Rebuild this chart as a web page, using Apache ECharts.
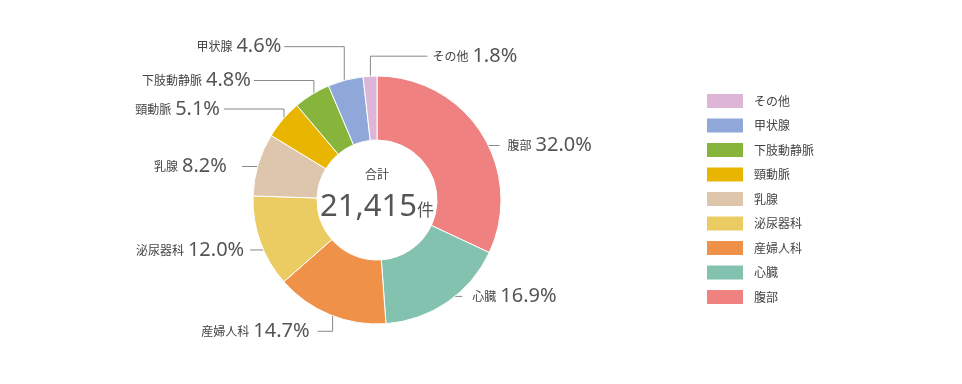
<!DOCTYPE html>
<html><head><meta charset="utf-8">
<script src="https://cdn.jsdelivr.net/npm/echarts@6/dist/echarts.min.js"></script>
<style>html,body{margin:0;padding:0;background:#fff}#c{width:962px;height:384px}</style>
</head><body><div id="c"></div>
<script>
// ---- data ----
var categories = ['腹部','心臓','産婦人科','泌尿器科','乳腺','頸動脈','下肢動静脈','甲状腺','その他'];
var percents   = [32.0, 16.9, 14.7, 12.0, 8.2, 5.1, 4.8, 4.6, 1.8];
var colors     = ['#ef8181','#82c2ae','#f0914a','#ebcc63','#ddc6ab','#e8b600','#87b43b','#90a8d9','#ddb5d6'];
var totalLabel = '21,415';
var totalUnit  = '件';
var totalTitle = '合計';
var legendOrder = ['その他','甲状腺','下肢動静脈','頸動脈','乳腺','泌尿器科','産婦人科','心臓','腹部'];

// ---- label leader layout (angle shift deg, vertical leg, horizontal leg, gap) ----
var leader = [
  {da: 4.7, v: 0,   h: 19,  gap: 8},
  {da: 0,   v: 0,   h: 19,  gap: 10},
  {da: 0,   v: 23,  h: -15, gap: 8},
  {da: -5.6,v: 0,   h: -21, gap: 6},
  {da: 0,   v: 0,   h: -23, gap: 15},
  {da: -3.2,v: -20, h: -60, gap: 4},
  {da: -1,  v: -21, h: -60, gap: 3},
  {da: -1.5,v: -41, h: -60, gap: 3},
  {da: 0,   v: -27, h: 57,  gap: 5}
];
var CX = 377, CY = 200, R_IN = 60, R_OUT = 124, R_LINE = 117;

var sum = percents.reduce(function(a,b){return a+b;},0);
var mids = [], acc = 0;
percents.forEach(function(p){ mids.push((acc + p/2) / sum * 360); acc += p; });

var chart = echarts.init(document.getElementById('c'));
var numFont = '"Noto Sans", "Noto Sans CJK JP", sans-serif';
var jpFont = '"Noto Sans CJK JP", sans-serif';
chart.setOption({
  animation: false,
  color: colors,
  legend: {
    orient: 'vertical', left: 705, top: 92, padding: 0,
    itemWidth: 38, itemHeight: 16, itemGap: 6.5,
    data: legendOrder,
    icon: 'rect',
    textStyle: {fontFamily: jpFont, fontSize: 12, color: '#444', padding: [0,0,0,5]}
  },
  graphic: [
    {type: 'text', x: CX, y: 174, style: {text: totalTitle, fontFamily: jpFont, fontSize: 12, fill: '#444', align: 'center', verticalAlign: 'middle'}},
    {type: 'text', x: CX, y: 207, style: {
      text: '{a|' + totalLabel + '}{b|' + totalUnit + '}', align: 'center', verticalAlign: 'middle',
      rich: {a: {fontFamily: numFont, fontSize: 31, fill: '#555', color: '#555'}, b: {fontFamily: jpFont, fontSize: 17, fill: '#555', color: '#555', padding: [6,0,0,0]}}
    }}
  ],
  series: [{
    type: 'pie',
    center: [CX, CY],
    radius: [R_IN, R_OUT],
    startAngle: 90,
    clockwise: true,
    avoidLabelOverlap: false,
    itemStyle: {borderColor: '#fff', borderWidth: 1},
    emphasis: {disabled: true},
    data: categories.map(function(n,i){ return {name: n, value: percents[i]}; }),
    label: {
      show: true, position: 'outside',
      formatter: function(p){ return '{n|' + p.name + '}{v|' + p.value.toFixed(1) + '%}'; },
      rich: {
        n: {fontFamily: jpFont, fontSize: 12, color: '#444', padding: [0,4,0,0]},
        v: {fontFamily: numFont, fontSize: 20, color: '#555'}
      }
    },
    labelLine: {show: true, length: 10, length2: 10, lineStyle: {color: '#888', width: 1}},
    labelLayout: function(params){
      var i = params.dataIndex, L = leader[i];
      var a = (mids[i] + L.da) * Math.PI / 180;
      var x0 = CX + R_LINE * Math.sin(a), y0 = CY - R_LINE * Math.cos(a);
      var x1 = x0, y1 = y0 + L.v;
      var x2 = x1 + L.h, y2 = y1;
      var right = L.h > 0;
      return {
        x: x2 + (right ? L.gap : -L.gap), y: y2,
        align: right ? 'left' : 'right', verticalAlign: 'middle',
        labelLinePoints: [[x0,y0],[x1,y1],[x2,y2]]
      };
    }
  }]
});
</script></body></html>
